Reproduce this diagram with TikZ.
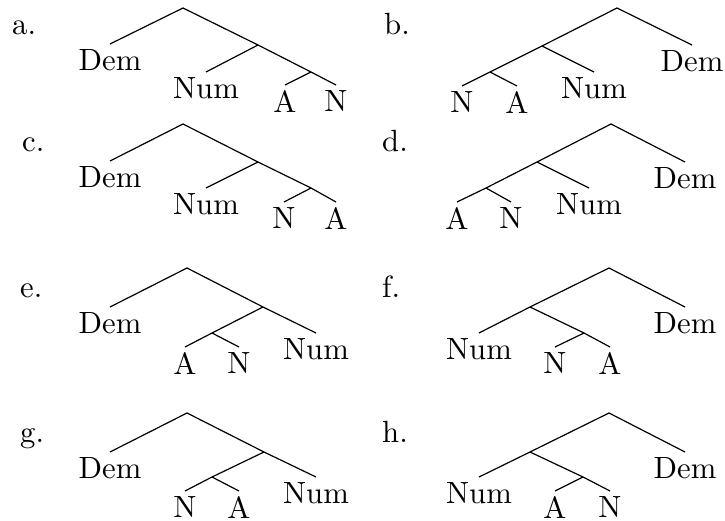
\documentclass[tikz,border=0pt]{standalone}
\usepackage{graphicx}
\newcommand\tx[1]{\scalebox{3.07}{#1}}
\tikzset{
  leaf/.style={anchor=north, inner sep=0pt, outer xsep=0pt, outer ysep=5.5pt},
  tag/.style={anchor=base west, inner sep=0pt},
  br/.style={line width=1.2pt}
}
\begin{document}
\begin{tikzpicture}[x=1pt,y=-1pt]
\useasboundingbox (0,0) rectangle (725,521);
% ---- a ----
\node[tag] (la) at (12,35) {\tx{a.}};
\coordinate (a0) at (183,8);
\coordinate (a1) at (258,45);
\coordinate (a2) at (311,72);
\node[leaf] (aDem) at (110,44) {\tx{Dem}};
\node[leaf] (aNum) at (206,72) {\tx{Num}};
\node[leaf] (aA) at (285,85) {\tx{A}};
\node[leaf] (aN) at (336,85) {\tx{N}};
\draw[br] (aDem.north) -- (a0) -- (a1) -- (a2) -- (aN.north);
\draw[br] (a1) -- (aNum.north);
\draw[br] (a2) -- (aA.north);
% ---- b ----
\node[tag] (lb) at (384,35) {\tx{b.}};
\coordinate (b0) at (617,8);
\coordinate (b1) at (542,46);
\coordinate (b2) at (490,72);
\node[leaf] (bDem) at (692,45) {\tx{Dem}};
\node[leaf] (bNum) at (594,72) {\tx{Num}};
\node[leaf] (bN) at (462,86) {\tx{N}};
\node[leaf] (bA) at (517,86) {\tx{A}};
\draw[br] (bDem.north) -- (b0) -- (b1) -- (b2) -- (bN.north);
\draw[br] (b1) -- (bNum.north);
\draw[br] (b2) -- (bA.north);
% ---- c ----
\node[tag] (lc) at (22,152) {\tx{c.}};
\coordinate (c0) at (183,124);
\coordinate (c1) at (258,162);
\coordinate (c2) at (311,188);
\node[leaf] (cDem) at (110,161) {\tx{Dem}};
\node[leaf] (cNum) at (206,188) {\tx{Num}};
\node[leaf] (cN) at (284,202) {\tx{N}};
\node[leaf] (cA) at (336,202) {\tx{A}};
\draw[br] (cDem.north) -- (c0) -- (c1) -- (c2) -- (cA.north);
\draw[br] (c1) -- (cNum.north);
\draw[br] (c2) -- (cN.north);
% ---- d ----
\node[tag] (ld) at (382,152) {\tx{d.}};
\coordinate (d0) at (611,124);
\coordinate (d1) at (537,162);
\coordinate (d2) at (486,188);
\node[leaf] (dDem) at (685,162) {\tx{Dem}};
\node[leaf] (dNum) at (589,188) {\tx{Num}};
\node[leaf] (dA) at (457,202) {\tx{A}};
\node[leaf] (dN) at (511,202) {\tx{N}};
\draw[br] (dDem.north) -- (d0) -- (d1) -- (d2) -- (dA.north);
\draw[br] (d1) -- (dNum.north);
\draw[br] (d2) -- (dN.north);
% ---- e ----
\node[tag] (le) at (20,297) {\tx{e.}};
\coordinate (e0) at (187,268);
\coordinate (e1) at (263,307);
\coordinate (e2) at (212,333);
\node[leaf] (eDem) at (110,307) {\tx{Dem}};
\node[leaf] (eNum) at (316,333) {\tx{Num}};
\node[leaf] (eA) at (185,347) {\tx{A}};
\node[leaf] (eN) at (239,347) {\tx{N}};
\draw[br] (eDem.north) -- (e0) -- (e1) -- (eNum.north);
\draw[br] (e1) -- (e2) -- (eA.north);
\draw[br] (e2) -- (eN.north);
% ---- f ----
\node[tag] (lf) at (382,297) {\tx{f.}};
\coordinate (f0) at (609,268);
\coordinate (f1) at (530,307);
\coordinate (f2) at (584,333);
\node[leaf] (fDem) at (685,307) {\tx{Dem}};
\node[leaf] (fNum) at (479,333) {\tx{Num}};
\node[leaf] (fN) at (555,347) {\tx{N}};
\node[leaf] (fA) at (610,347) {\tx{A}};
\draw[br] (fDem.north) -- (f0) -- (f1) -- (fNum.north);
\draw[br] (f1) -- (f2) -- (fA.north);
\draw[br] (f2) -- (fN.north);
% ---- g ----
\node[tag] (lg) at (20,442) {\tx{g.}};
\coordinate (g0) at (187,413);
\coordinate (g1) at (264,452);
\coordinate (g2) at (212,477);
\node[leaf] (gDem) at (110,452) {\tx{Dem}};
\node[leaf] (gNum) at (316,477) {\tx{Num}};
\node[leaf] (gN) at (185,491) {\tx{N}};
\node[leaf] (gA) at (239,491) {\tx{A}};
\draw[br] (gDem.north) -- (g0) -- (g1) -- (gNum.north);
\draw[br] (g1) -- (g2) -- (gN.north);
\draw[br] (g2) -- (gA.north);
% ---- h ----
\node[tag] (lh) at (382,442) {\tx{h.}};
\coordinate (h0) at (609,413);
\coordinate (h1) at (530,452);
\coordinate (h2) at (583,477);
\node[leaf] (hDem) at (685,452) {\tx{Dem}};
\node[leaf] (hNum) at (479,477) {\tx{Num}};
\node[leaf] (hA) at (555,491) {\tx{A}};
\node[leaf] (hN) at (610,491) {\tx{N}};
\draw[br] (hDem.north) -- (h0) -- (h1) -- (hNum.north);
\draw[br] (h1) -- (h2) -- (hN.north);
\draw[br] (h2) -- (hA.north);
\end{tikzpicture}
\end{document}
